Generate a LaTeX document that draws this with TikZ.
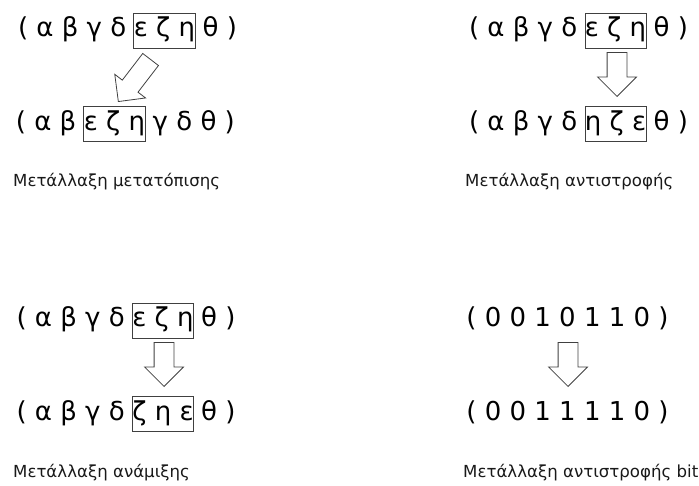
\documentclass[tikz,border=0pt]{standalone}
\usepackage{fontspec}
\setmainfont{DejaVu Sans}
\usetikzlibrary{positioning,shapes.arrows}
\newcommand{\gap}{\kern7pt}
\tikzset{
  seq/.style={inner xsep=0pt, inner ysep=1pt, font=\fontsize{26}{26}\selectfont, text height=19pt, text depth=6pt},
  swapbox/.style={seq, draw=black!75, line width=0.8pt, minimum height=35pt, inner xsep=0pt},
  blockarrow/.style={single arrow, draw=black!75, line width=0.8pt, inner xsep=0pt, inner ysep=9.5pt, minimum width=38pt, single arrow head extend=9.5pt, minimum height=44pt, anchor=tip},
  caption/.style={anchor=west, inner sep=0pt, font=\fontsize{16.6}{16.6}\selectfont, text=black!90}
}
\begin{document}
\begin{tikzpicture}[x=1pt,y=-1pt]
\useasboundingbox (0,0) rectangle (699,486);
% Metallaxi metatopisis
\node[swapbox] (tlbox) at (164.5,30.5) {ε ζ η};
\node[seq, left=0pt of tlbox] (tlleft) {( α β γ δ\gap};
\node[seq, right=0pt of tlbox] (tlright) {\gap θ )};
\node[swapbox] (tlbox2) at (114.5,124) {ε ζ η};
\node[seq, left=0pt of tlbox2] (tlleft2) {( α β\gap};
\node[seq, right=0pt of tlbox2] (tlright2) {\gap γ δ θ )};
\node[blockarrow, minimum height=53pt, rotate=-127.5] (tlarrow) at (118,102) {};
\node[caption] (tlcap) at (13,182) {Μετάλλαξη μετατόπισης};
% Metallaxi antistrofis
\node[swapbox] (trbox) at (615.5,30.5) {ε ζ η};
\node[seq, left=0pt of trbox] (trleft) {( α β γ δ\gap};
\node[seq, right=0pt of trbox] (trright) {\gap θ )};
\node[swapbox] (trbox2) at (615.5,124) {η ζ ε};
\node[seq, left=0pt of trbox2] (trleft2) {( α β γ δ\gap};
\node[seq, right=0pt of trbox2] (trright2) {\gap θ )};
\node[blockarrow, rotate=-90] (trarrow) at (617,97) {};
\node[caption] (trcap) at (465,182) {Μετάλλαξη αντιστροφής};
% Metallaxi anamixis
\node[swapbox] (blbox) at (163,320.5) {ε ζ η};
\node[seq, left=0pt of blbox] (blleft) {( α β γ δ\gap};
\node[seq, right=0pt of blbox] (blright) {\gap θ )};
\node[swapbox] (blbox2) at (163,414) {ζ η ε};
\node[seq, left=0pt of blbox2] (blleft2) {( α β γ δ\gap};
\node[seq, right=0pt of blbox2] (blright2) {\gap θ )};
\node[blockarrow, rotate=-90] (blarrow) at (164,387) {};
\node[caption] (blcap) at (13,473) {Μετάλλαξη ανάμιξης};
% Metallaxi antistrofis bit
\node[seq] (brbits) at (567.5,320.5) {( 0 0 1 0 1 1 0 )};
\node[seq] (brbits2) at (567.5,414) {( 0 0 1 1 1 1 0 )};
\node[blockarrow, rotate=-90] (brarrow) at (568,387) {};
\node[caption] (brcap) at (463,473) {Μετάλλαξη αντιστροφής bit};
\end{tikzpicture}
\end{document}
